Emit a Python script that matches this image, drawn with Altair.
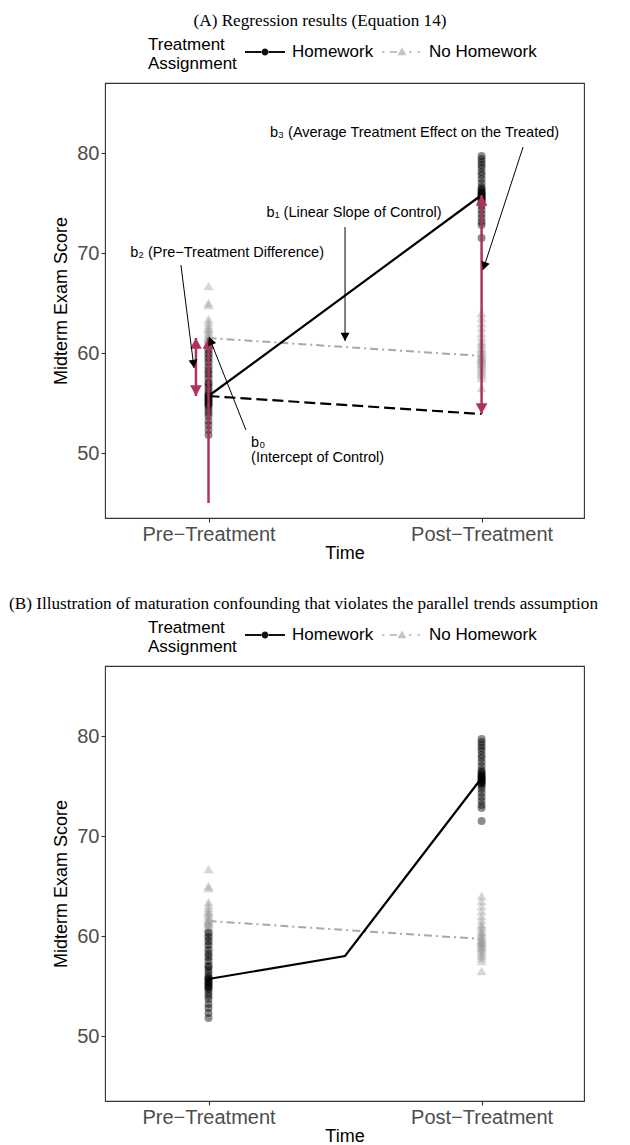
import math
import altair as alt
import pandas as pd

# ---------------- data ----------------
GROUPS = ["Homework", "No Homework"]
TIME_LABELS = ["Pre−Treatment", "Post−Treatment"]
TIME_POS = [0, 1]

HW_PRE = [60.3, 59.9, 59.5, 59.1, 58.6, 58.2, 57.9, 57.5, 57.0, 56.9, 56.6, 56.3, 56.0, 55.8, 55.7,
          55.6, 55.4, 55.3, 55.2, 55.0, 54.9, 54.8, 54.6, 54.3, 54.0, 53.7, 53.2, 52.8, 52.3, 51.8]
HW_POST = [79.7, 79.4, 79.1, 78.8, 78.5, 78.1, 77.8, 77.4, 77.0, 76.6, 76.4, 76.3, 76.1, 76.0, 75.9,
           75.8, 75.7, 75.6, 75.5, 75.4, 75.3, 75.2, 75.0, 74.7, 74.3, 73.9, 73.5, 73.1, 72.8, 71.5]
NH_PRE = [66.7, 65.0, 64.8, 63.4, 63.1, 62.8, 62.5, 62.4, 62.2, 62.0, 61.8, 61.6, 61.5, 61.4, 61.3,
          61.2, 61.0, 60.9, 60.8, 60.6, 60.4, 60.2, 60.0, 59.8, 59.5, 59.2, 58.9, 58.5, 58.0, 57.6]
NH_POST = [64.0, 63.5, 63.0, 62.5, 62.0, 61.6, 61.2, 61.0, 60.8, 60.5, 60.4, 60.2, 60.0, 59.9, 59.7,
           59.6, 59.5, 59.4, 59.3, 59.2, 59.0, 58.9, 58.8, 58.6, 58.4, 58.2, 58.0, 57.8, 57.5, 56.5]

HW_MEAN = [55.7, 75.8]          # fitted homework line (panel A)
NH_MEAN = [61.5, 59.7]          # fitted no-homework line
CF_MEAN = [55.7, 53.9]          # counterfactual (parallel trend)
HW_B_T = [0, 0.5, 1]            # panel B homework path (maturation)
HW_B_Y = [55.7, 58.0, 75.8]

# red coefficient arrows (panel A)
RED_T = [-0.046, 0.0, 1.0]
RED_Y1 = [55.7, 45.0, 53.9]
RED_Y2 = [61.5, 61.5, 75.8]
RED_BOTH = [True, False, True]

# annotation labels (panel A)
LAB_TEXT = ["b₃ (Average Treatment Effect on the Treated)", "b₁ (Linear Slope of Control)",
            "b₂ (Pre−Treatment Difference)", "b₀", "(Intercept of Control)"]
LAB_T = [1.284, 0.533, 0.068, 0.156, 0.156]
LAB_Y = [82.0, 74.0, 70.0, 51.0, 49.5]
LAB_ALIGN = ["right", "center", "center", "left", "left"]

# thin black pointer arrows (panel A)
ARR_T1 = [1.152, 0.5, -0.101, 0.137]
ARR_Y1 = [80.6, 72.6, 68.8, 52.3]
ARR_T2 = [1.005, 0.5, -0.053, 0.002]
ARR_Y2 = [68.3, 61.2, 58.5, 61.6]

# ---------------- styling ----------------
X_DOM = [-0.379, 1.375]
Y_DOM = [43.5, 87.0]
W, H = 479, 435
SX = W / (X_DOM[1] - X_DOM[0])
SY = H / (Y_DOM[1] - Y_DOM[0])
RED = "#B03060"
GREY = "#A8A8A8"
FONT = "Liberation Sans"
TIP = "M0,0L-0.6,1.1L0.6,1.1Z"
HW_SYM = ("M-1,-0.05H-0.15V0.05H-1Z M0.15,-0.05H1V0.05H0.15Z "
          "M-0.17,0A0.17,0.17 0 1,0 0.17,0A0.17,0.17 0 1,0 -0.17,0Z")
NH_SYM = ("M-1,-0.05H-0.88V0.05H-1Z M-0.62,-0.05H-0.24V0.05H-0.62Z "
          "M-0.22,0.16L0,-0.22L0.22,0.16Z M0.35,-0.05H0.47V0.05H0.35Z M0.78,-0.05H0.9V0.05H0.78Z")

xs = alt.Scale(domain=X_DOM, nice=False, zero=False)
ys = alt.Scale(domain=Y_DOM, nice=False, zero=False)
label_expr = f"datum.value == 0 ? '{TIME_LABELS[0]}' : '{TIME_LABELS[1]}'"
x_axis = alt.Axis(values=TIME_POS, labelExpr=label_expr, title="Time")
y_axis = alt.Axis(values=[50, 60, 70, 80], title="Midterm Exam Score")


def X(f="t"):
    return alt.X(f"{f}:Q", scale=xs, axis=x_axis)


def Y(f="y"):
    return alt.Y(f"{f}:Q", scale=ys, axis=y_axis)


hw_pts = pd.DataFrame({"t": [TIME_POS[0]] * len(HW_PRE) + [TIME_POS[1]] * len(HW_POST),
                       "y": HW_PRE + HW_POST})
nh_pts = pd.DataFrame({"t": [TIME_POS[0]] * len(NH_PRE) + [TIME_POS[1]] * len(NH_POST),
                       "y": NH_PRE + NH_POST})

legend_def = alt.Legend(
    title=["Treatment", "Assignment"], orient="none", legendX=43, legendY=-51,
    direction="horizontal", titleOrient="left", titleAnchor="middle", titleBaseline="top",
    titleFontSize=17, titleFont=FONT, titleFontWeight="normal", titleColor="black",
    titleLineHeight=19, titlePadding=8, labelFontSize=17, labelFont=FONT, labelColor="black",
    labelOffset=7, columnPadding=8, symbolSize=1600, symbolStrokeWidth=0, symbolOpacity=1,
    padding=0, labelLimit=300)


def legend_layer():
    return alt.Chart(pd.DataFrame({"g": GROUPS})).transform_filter("false").mark_point(
        filled=True, opacity=1, strokeWidth=0).encode(
        shape=alt.Shape("g:N", scale=alt.Scale(domain=GROUPS, range=[HW_SYM, NH_SYM]), legend=legend_def),
        color=alt.Color("g:N", scale=alt.Scale(domain=GROUPS, range=["#111111", "#C4C4C4"]), legend=legend_def),
    )


def base_layers(hw_t, hw_y):
    nh = alt.Chart(nh_pts).mark_point(shape="triangle-up", filled=True, size=100, color="#9A9A9A",
                                      opacity=0.4, strokeWidth=0).encode(x=X(), y=Y())
    hw = alt.Chart(hw_pts).mark_circle(size=64, color="#000000", opacity=0.45).encode(x=X(), y=Y())
    nh_line = alt.Chart(pd.DataFrame({"t": TIME_POS, "y": NH_MEAN})).mark_line(
        color=GREY, strokeWidth=2, strokeDash=[8, 4, 2, 4]).encode(x=X(), y=Y())
    hw_line = alt.Chart(pd.DataFrame({"t": hw_t, "y": hw_y})).mark_line(
        color="black", strokeWidth=2.2).encode(x=X(), y=Y())
    return [nh, hw, nh_line, hw_line]


def title(text, dx):
    return alt.TitleParams(text=text, font="Liberation Serif", fontSize=17.2, fontWeight="normal",
                           color="black", anchor="middle", dx=dx, offset=3)


# ---------------- panel A ----------------
layers_a = base_layers(TIME_POS, HW_MEAN)
cf = alt.Chart(pd.DataFrame({"t": TIME_POS, "y": CF_MEAN})).mark_line(
    color="black", strokeWidth=2.2, strokeDash=[11, 5]).encode(x=X(), y=Y())

red_df = pd.DataFrame({"t": RED_T, "y1": RED_Y1, "y2": RED_Y2})
red_rules = alt.Chart(red_df).mark_rule(color=RED, strokeWidth=2.5).encode(
    x=X(), y=Y("y1"), y2="y2:Q")
head_rows = []
for t, y1, y2, both in zip(RED_T, RED_Y1, RED_Y2, RED_BOTH):
    head_rows.append({"t": t, "y": y2, "ang": 0})
    if both:
        head_rows.append({"t": t, "y": y1, "ang": 180})
red_heads = alt.Chart(pd.DataFrame(head_rows)).mark_point(
    shape=TIP, filled=True, size=380, color=RED, opacity=1, strokeWidth=0).encode(
    x=X(), y=Y(), angle=alt.Angle("ang:Q", scale=None))

arr_df = pd.DataFrame({"t": ARR_T1, "y": ARR_Y1, "t2": ARR_T2, "y2": ARR_Y2})
arr_df["ang"] = [
    (math.degrees(math.atan2((b - a) * SX, (d - c) * SY)) + 360) % 360
    for a, b, c, d in zip(ARR_T1, ARR_T2, ARR_Y1, ARR_Y2)
]
blk_rules = alt.Chart(arr_df).mark_rule(color="black", strokeWidth=1).encode(
    x=X(), y=Y(), x2="t2:Q", y2="y2:Q")
blk_heads = alt.Chart(arr_df).mark_point(
    shape=TIP, filled=True, size=220, color="black", opacity=1, strokeWidth=0).encode(
    x=X("t2"), y=Y("y2"), angle=alt.Angle("ang:Q", scale=None))

lab_df = pd.DataFrame({"t": LAB_T, "y": LAB_Y, "text": LAB_TEXT, "align": LAB_ALIGN})
text_layers = []
for al in ["left", "center", "right"]:
    text_layers.append(
        alt.Chart(lab_df).transform_filter(alt.datum.align == al).mark_text(
            align=al, baseline="middle", font=FONT, fontSize=14.5, color="black").encode(
            x=X(), y=Y(), text="text:N"))

panel_a = alt.layer(*layers_a, cf, red_rules, red_heads, blk_rules, blk_heads, *text_layers,
                    legend_layer()).properties(
    width=W, height=H, title=title("(A) Regression results (Equation 14)", -24.5))

# ---------------- panel B ----------------
layers_b = base_layers(HW_B_T, HW_B_Y)
panel_b = alt.layer(*layers_b, legend_layer()).properties(
    width=W, height=H,
    title=title("(B) Illustration of maturation confounding that violates the parallel trends assumption", -41))

chart = alt.vconcat(panel_a, panel_b, spacing=148, bounds="flush").resolve_scale(
    color="independent", shape="independent"
).properties(
    padding={"left": 0, "top": 3, "right": 5, "bottom": 0}
).configure_view(stroke="#333333", strokeWidth=1.1).configure_axis(
    grid=False, domain=False, tickSize=4, tickColor="#333333", tickWidth=1.1,
    labelFont=FONT, labelFontSize=20, labelColor="#4D4D4D", labelPadding=2,
    titleFont=FONT, titleFontSize=18, titleFontWeight="normal", titleColor="black",
).configure_axisY(titlePadding=6).configure_axisX(titlePadding=0)

chart.save("out.html", embed_options={"renderer": "svg", "actions": False})
